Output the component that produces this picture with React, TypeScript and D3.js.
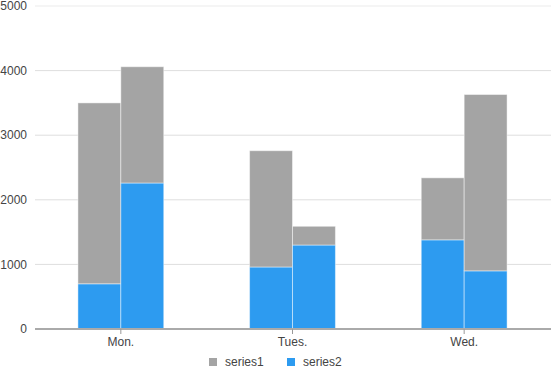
import React from "react";
import * as d3 from "d3";

const categories = ["Mon.", "Tues.", "Wed."];
const stack1Series2 = [700, 960, 1380];
const stack1Series1 = [2800, 1800, 960];
const stack2Series2 = [2260, 1300, 900];
const stack2Series1 = [1800, 290, 2730];
const yTicks = [0, 1000, 2000, 3000, 4000, 5000];
const seriesNames = ["series1", "series2"];
const colors = { series1: "#a4a4a4", series2: "#2d9bf0" };

const W = 551;
const H = 377;

export default function App() {
  const x = d3.scaleBand<string>().domain(categories).range([35, 550]).padding(0);
  const y = d3.scaleLinear().domain([0, 5000]).range([329, 6]);
  const barW = x.bandwidth() / 4;

  const stacks = [
    { s2: stack1Series2, s1: stack1Series1, offset: -1 },
    { s2: stack2Series2, s1: stack2Series1, offset: 0 },
  ];

  const font = "'Liberation Sans', Arial, sans-serif";

  return (
    <svg
      width={W}
      height={H}
      style={{ position: "fixed", left: 0, top: 0, background: "#fff" }}
      fontFamily={font}
    >
      {yTicks.map((t) => (
        <g key={t}>
          {t > 0 && (
            <line x1={35} x2={551} y1={y(t)} y2={y(t)} stroke={t === 5000 ? "#ebebeb" : "#dedede"} strokeWidth={1} />
          )}
          <text x={27} y={y(t)} dy="0.35em" textAnchor="end" fontSize={12} fill="#444">
            {t}
          </text>
        </g>
      ))}
      {stacks.map((st, si) =>
        categories.map((c, i) => {
          const cx = (x(c) as number) + x.bandwidth() / 2;
          const bx = cx + st.offset * barW;
          const v2 = st.s2[i];
          const v1 = st.s1[i];
          return (
            <g key={`${si}-${c}`}>
              <rect
                x={bx}
                y={y(v2)}
                width={barW}
                height={y(0) - y(v2)}
                fill={colors.series2}
                stroke="rgba(255,255,255,0.45)"
                strokeWidth={1}
              />
              <rect
                x={bx}
                y={y(v2 + v1)}
                width={barW}
                height={y(v2) - y(v2 + v1)}
                fill={colors.series1}
                stroke="rgba(255,255,255,0.45)"
                strokeWidth={1}
              />
            </g>
          );
        })
      )}
      <line x1={35} x2={551} y1={y(0)} y2={y(0)} stroke="#aaaaaa" strokeWidth={2} />
      {categories.map((c) => {
        const cx = (x(c) as number) + x.bandwidth() / 2;
        return (
          <g key={c}>
            <line x1={cx} x2={cx} y1={y(0)} y2={y(0) + 5} stroke="#999" strokeWidth={1} />
            <text x={cx} y={346} textAnchor="middle" fontSize={12} fill="#444">
              {c}
            </text>
          </g>
        );
      })}
      {seriesNames.map((n, i) => {
        const lx = 209 + i * 78;
        return (
          <g key={n}>
            <rect x={lx} y={358} width={8} height={8} fill={(colors as any)[n]} />
            <text x={lx + 16} y={366} fontSize={12} fill="#444">
              {n}
            </text>
          </g>
        );
      })}
    </svg>
  );
}
